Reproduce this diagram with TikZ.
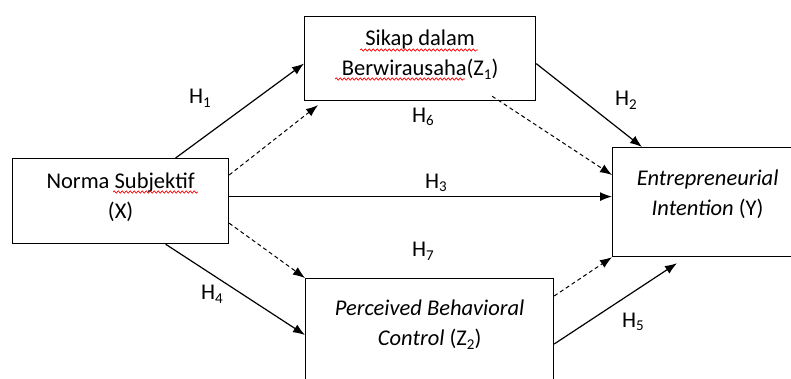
\documentclass[tikz,border=0pt]{standalone}
\usepackage{fontspec}
\setmainfont{Carlito}
\usetikzlibrary{positioning,calc,arrows.meta,decorations.pathmorphing}
\newcommand{\idx}[1]{\raisebox{-0.16em}{\fontsize{15}{15}\selectfont #1}}
\tikzset{box/.style n args={3}{
    draw, anchor=north west, align=flush center, inner sep=0pt,
    text width=#1, text height=#2, text depth=#3
    },
    hyp/.style={inner sep=0pt},
    indirect/.style={->, dash pattern=on 4pt off 3pt, line width=1pt},
    spellmark/.style={red, line width=0.7pt, decorate,
        decoration={snake, segment length=4pt, amplitude=1.1pt}}
}

\begin{document}
\begin{tikzpicture}[x=1pt,y=-1pt,>={Latex[length=12pt,width=9pt]},line width=1.2pt,
    every node/.style={font=\fontsize{22.5}{30}\selectfont}]
	\useasboundingbox (0,0) rectangle (791,379);
	\clip (0,0) rectangle (791,379);

	\node[box={216pt}{30pt}{55pt}] (X) at (12,158) {Norma Subjektif\\(X)};
	\node[box={231pt}{29pt}{55pt}] (Z1) at (304,16) {Sikap dalam\\Berwirausaha(Z\idx{1})};
	\node[box={190pt}{38pt}{71pt}] (Y) at (612,147) {\textit{Entrepreneurial}\\\textit{Intention} (Y)};
	\node[box={248pt}{37pt}{90pt}] (Z2) at (305,278) {\textit{Perceived Behavioral}\\\textit{Control} (Z\idx{2})};

	% spelling marks under the words
	\draw [spellmark] ($(X.north west)+(101,34)$) -- ($(X.north west)+(186,34)$);
	\draw [spellmark] ($(Z1.north west)+(56,34)$) -- ($(Z1.north west)+(174,34)$);
	\draw [spellmark] ($(Z1.north west)+(31,63)$) -- ($(Z1.north west)+(161,63)$);

	\draw [->] ($(X.north)+(55,0)$) -- ($(Z1.west)+(0,5)$);
	\draw [->] ($(X.east)+(0,-4.5)$) -- ($(Y.west)+(0,-5.5)$);
	\draw [->] ($(X.south)+(45,0)$) -- ($(Z2.north west)+(0,57)$);
	\draw [->] ($(Z1.east)+(0,5)$) -- ($(Y.north west)+(30,0)$);
	\draw [->] ($(Z2.north east)+(0,66)$) -- ($(Y.south west)+(65,6)$);

	\draw [indirect] ($(X.north east)+(0,17)$) -- ($(Z1.south west)+(14,4)$);
	\draw [indirect] ($(X.south east)+(0,-21)$) -- (Z2.north west);
	\draw [indirect] ($(Z1.south)+(72,-5)$) -- ($(Y.north west)+(0,28)$);
	\draw [indirect] ($(Z2.north east)+(0,18)$) -- (Y.south west);

	\node[hyp] (h1) at (200,98) {H\idx{1}};
	\node[hyp] (h2) at (626,100) {H\idx{2}};
	\node[hyp] (h3) at (436,183) {H\idx{3}};
	\node[hyp] (h4) at (212,294) {H\idx{4}};
	\node[hyp] (h5) at (633,322) {H\idx{5}};
	\node[hyp] (h6) at (423,117) {H\idx{6}};
	\node[hyp] (h7) at (423,251) {H\idx{7}};

\end{tikzpicture}
\end{document}
